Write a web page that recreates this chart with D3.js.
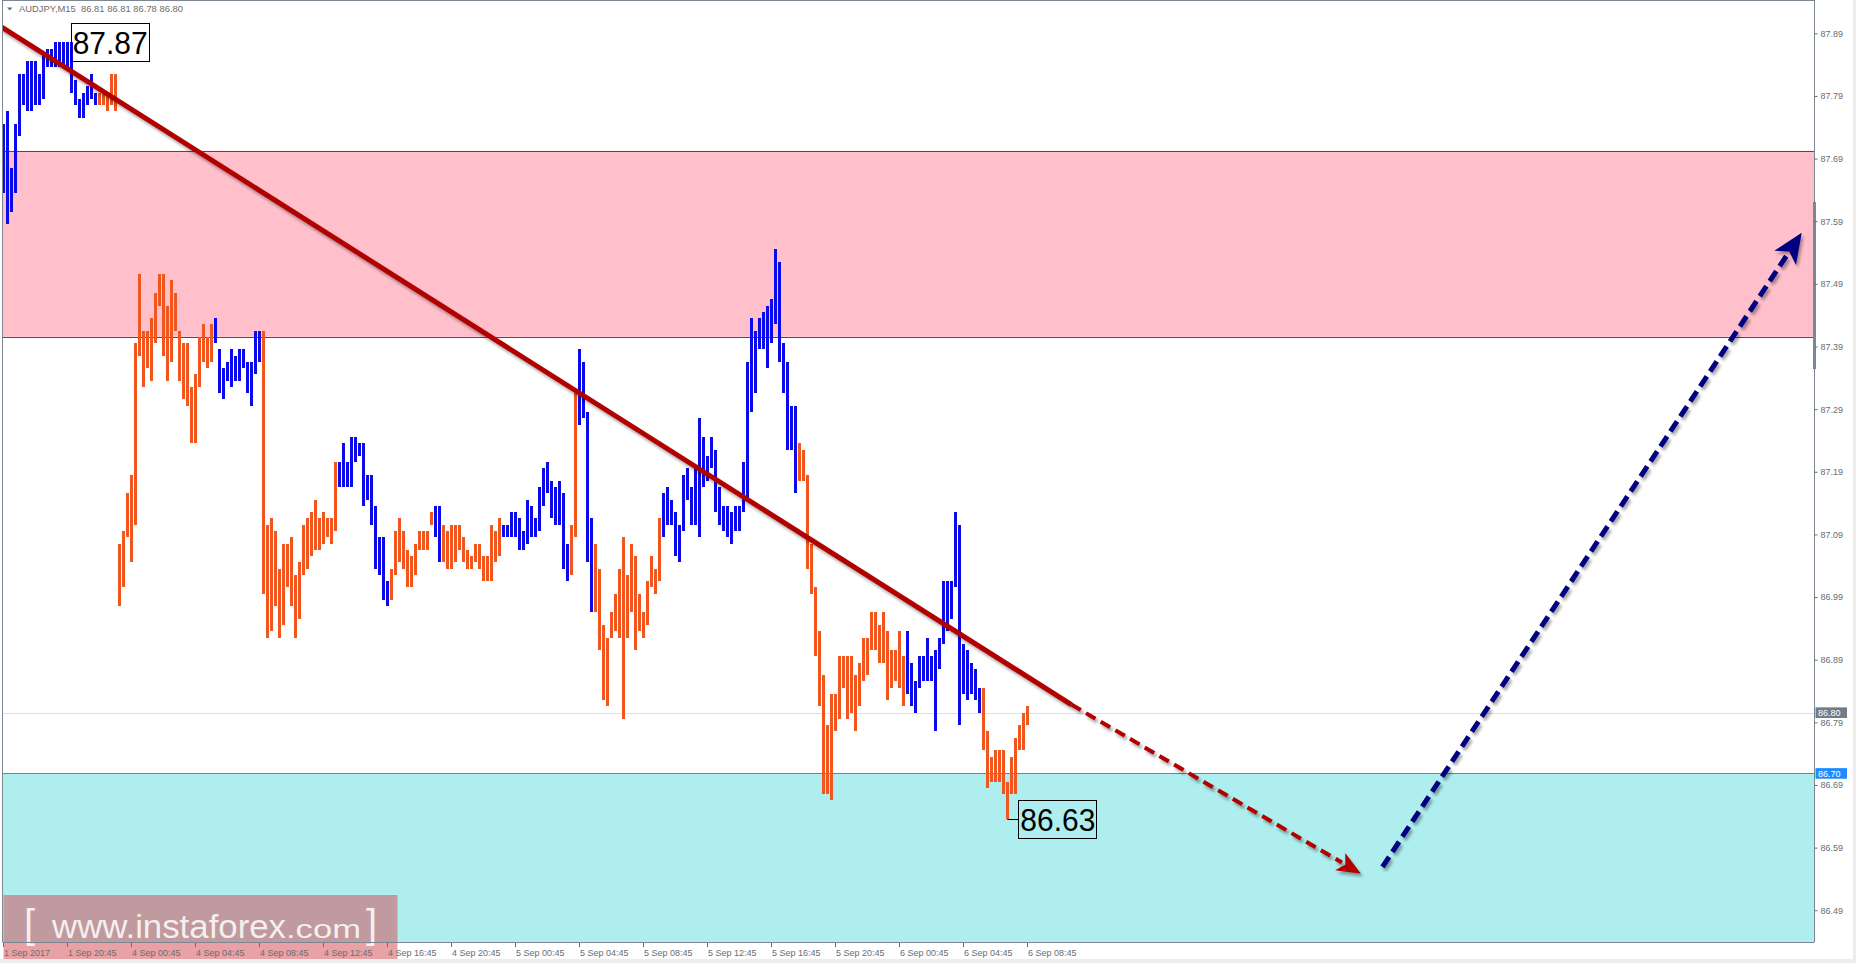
<!DOCTYPE html>
<html><head><meta charset="utf-8">
<script src="https://cdn.jsdelivr.net/npm/d3@7"></script>
<style>html,body{margin:0;padding:0;background:#fff;overflow:hidden}</style>
</head><body>
<svg id="chart" width="1856" height="963"></svg>
<script>
// ---------- data ----------
const barHigh = [
87.74,87.76,87.67,87.74,87.82,87.82,87.84,87.84,87.84,87.82,87.85,87.86,87.86,87.87,87.87,87.87,87.87,87.87,87.81,87.78,
87.79,87.80,87.82,87.79,87.79,87.79,87.79,87.82,87.82,87.07,87.09,87.15,87.18,87.39,87.50,87.41,87.41,87.43,87.47,87.50,
87.50,87.45,87.49,87.47,87.41,87.39,87.39,87.32,87.34,87.40,87.42,87.40,87.42,87.43,87.38,87.35,87.36,87.38,87.37,87.38,
87.38,87.36,87.36,87.41,87.41,87.41,87.10,87.11,87.09,87.03,87.07,87.07,87.08,87.02,87.04,87.10,87.11,87.12,87.14,87.11,
87.12,87.11,87.11,87.20,87.20,87.23,87.20,87.24,87.24,87.23,87.23,87.18,87.18,87.13,87.08,87.08,87.01,87.03,87.09,87.11,
87.09,87.06,87.05,87.07,87.09,87.09,87.09,87.12,87.13,87.13,87.10,87.09,87.10,87.10,87.10,87.08,87.06,87.05,87.07,87.07,
87.05,87.05,87.10,87.09,87.11,87.10,87.10,87.12,87.12,87.11,87.09,87.14,87.13,87.11,87.16,87.19,87.20,87.17,87.16,87.17,
87.15,87.07,87.10,87.31,87.38,87.36,87.28,87.11,87.07,87.03,86.94,86.92,86.96,86.99,87.03,87.08,87.02,87.07,87.05,86.99,
86.96,87.01,87.05,87.03,87.11,87.15,87.16,87.14,87.12,87.10,87.18,87.19,87.16,87.19,87.27,87.24,87.21,87.24,87.22,87.16,
87.13,87.13,87.12,87.13,87.13,87.20,87.36,87.43,87.41,87.43,87.44,87.45,87.46,87.54,87.52,87.39,87.36,87.29,87.29,87.23,
87.22,87.18,87.07,87.00,86.93,86.86,86.78,86.83,86.83,86.89,86.89,86.89,86.89,86.86,86.88,86.92,86.92,86.96,86.96,86.94,
86.96,86.93,86.90,86.90,86.93,86.89,86.93,86.88,86.85,86.89,86.89,86.92,86.89,86.90,86.92,87.01,87.01,87.01,87.12,87.10,
86.91,86.90,86.88,86.87,86.84,86.84,86.77,86.73,86.74,86.74,86.74,86.69,86.73,86.76,86.78,86.80,86.81];
const barLow = [
87.63,87.58,87.60,87.63,87.72,87.77,87.76,87.76,87.77,87.77,87.78,87.83,87.83,87.83,87.83,87.83,87.83,87.79,87.77,87.75,
87.75,87.77,87.78,87.77,87.77,87.77,87.76,87.77,87.76,86.97,87.00,87.08,87.04,87.10,87.37,87.32,87.35,87.33,87.39,87.45,
87.37,87.33,87.36,87.41,87.33,87.30,87.29,87.23,87.23,87.32,87.36,87.35,87.36,87.39,87.31,87.30,87.33,87.32,87.33,87.33,
87.35,87.31,87.29,87.34,87.36,86.99,86.92,86.93,86.97,86.92,86.94,87.00,86.97,86.92,86.95,87.02,87.03,87.05,87.06,87.06,
87.07,87.08,87.07,87.09,87.16,87.16,87.16,87.16,87.20,87.21,87.13,87.14,87.10,87.03,87.02,86.98,86.97,86.98,87.02,87.04,
87.03,87.00,87.00,87.02,87.06,87.06,87.06,87.10,87.08,87.04,87.04,87.03,87.03,87.04,87.06,87.04,87.03,87.03,87.04,87.03,
87.01,87.01,87.01,87.04,87.05,87.08,87.08,87.08,87.08,87.06,87.06,87.07,87.08,87.08,87.09,87.13,87.15,87.11,87.10,87.10,
87.03,87.01,87.02,87.08,87.26,87.27,87.04,86.96,86.96,86.90,86.82,86.81,86.92,86.93,86.92,86.79,86.92,86.96,86.90,86.93,
86.92,86.94,87.00,86.99,87.01,87.08,87.10,87.10,87.05,87.04,87.09,87.14,87.10,87.10,87.08,87.16,87.17,87.19,87.12,87.10,
87.09,87.08,87.07,87.09,87.09,87.12,87.14,87.28,87.31,87.38,87.38,87.35,87.39,87.42,87.36,87.31,87.22,87.22,87.15,87.17,
87.17,87.03,86.99,86.89,86.81,86.67,86.67,86.66,86.77,86.79,86.84,86.79,86.80,86.77,86.81,86.85,86.86,86.90,86.90,86.88,
86.88,86.82,86.84,86.85,86.84,86.81,86.83,86.81,86.80,86.84,86.85,86.85,86.85,86.77,86.87,86.91,86.93,86.95,87.00,86.78,
86.83,86.82,86.83,86.82,86.80,86.74,86.68,86.69,86.69,86.69,86.67,86.63,86.67,86.67,86.74,86.74,86.78];

const waveSegments = [
  {from:0,to:23,dir:"up"},   {from:24,to:52,dir:"down"},
  {from:53,to:64,dir:"up"},  {from:65,to:83,dir:"down"},
  {from:84,to:96,dir:"up"},  {from:97,to:107,dir:"down"},
  {from:108,to:109,dir:"up"},{from:110,to:124,dir:"down"},
  {from:125,to:141,dir:"up"},{from:142,to:143,dir:"down"},
  {from:144,to:147,dir:"up"},{from:148,to:164,dir:"down"},
  {from:165,to:198,dir:"up"},{from:199,to:225,dir:"down"},
  {from:226,to:244,dir:"up"},{from:245,to:256,dir:"down"}
];

const priceTicks = [87.89,87.79,87.69,87.59,87.49,87.39,87.29,87.19,87.09,86.99,86.89,86.79,86.69,86.59,86.49];
const timeTickBars = [0,16,32,48,64,80,96,112,128,144,160,176,192,208,224,240,256];
const timeLabels = ["1 Sep 2017","1 Sep 20:45","4 Sep 00:45","4 Sep 04:45","4 Sep 08:45","4 Sep 12:45",
  "4 Sep 16:45","4 Sep 20:45","5 Sep 00:45","5 Sep 04:45","5 Sep 08:45","5 Sep 12:45","5 Sep 16:45",
  "5 Sep 20:45","6 Sep 00:45","6 Sep 04:45","6 Sep 08:45"];

const title = "AUDJPY,M15  86.81 86.81 86.78 86.80";
const resistanceZone = [87.697, 87.40];
const supportZone = [86.703, 86.30];
const bidPrice = 86.80;
const zoneLabel = {price:86.703, text:"86.70"};
const bidLabel = {price:86.80, text:"86.80"};
const highMark = {bar:17, price:87.87, text:"87.87"};
const lowMark  = {bar:251, price:86.63, text:"86.63"};
const trendLine   = [{bar:-0.8, price:87.896},{bar:267, price:86.813}];
const forecastDown = [{bar:267, price:86.813},{bar:339.4, price:86.543}];
const forecastUp   = [{bar:344.8, price:86.554},{bar:449.6, price:87.566}];

// ---------- layout ----------
const W = 1856, H = 963;
const plotL = 2.5, plotR = 1814, plotT = 0.5, plotB = 942;
const x = d3.scaleLinear().domain([0,256]).range([3.3,1027.3]);
const y = d3.scaleLinear().domain([87.89,86.49]).range([29.9,29.9+1.4*626.4]);
const colUp = "#0a0aea", colDown = "#f0561e";
const axisFont = "'Liberation Sans', Arial, sans-serif";
const axisCol = "#6c6c6c";

const svg = d3.select("#chart");
const defs = svg.append("defs");
defs.append("clipPath").attr("id","plotClip").append("rect")
  .attr("x",plotL).attr("y",plotT).attr("width",plotR-plotL).attr("height",plotB-plotT);
const sh = defs.append("filter").attr("id","shadow").attr("x","-20%").attr("y","-20%").attr("width","140%").attr("height","140%");
sh.append("feDropShadow").attr("dx",2).attr("dy",3).attr("stdDeviation",1.8)
  .attr("flood-color","#000").attr("flood-opacity",0.35);

svg.append("rect").attr("width",W).attr("height",H).attr("fill","#fff");
// light frame strips
svg.append("rect").attr("x",0).attr("y",959).attr("width",W).attr("height",4).attr("fill","#ececec");
svg.append("rect").attr("x",1853).attr("y",0).attr("width",3).attr("height",H).attr("fill","#ececec");

const plot = svg.append("g").attr("clip-path","url(#plotClip)");

// zones
plot.append("rect").attr("x",plotL).attr("width",plotR-plotL)
  .attr("y",y(resistanceZone[0])).attr("height",y(resistanceZone[1])-y(resistanceZone[0]))
  .attr("fill","#ffc0cb");
[resistanceZone[0],resistanceZone[1]].forEach(p=>{
  plot.append("line").attr("x1",plotL).attr("x2",plotR).attr("y1",Math.round(y(p))+0.5).attr("y2",Math.round(y(p))+0.5)
    .attr("stroke","#e01010").attr("stroke-width",1);
});
plot.append("rect").attr("x",plotL).attr("width",plotR-plotL)
  .attr("y",y(supportZone[0])).attr("height",y(supportZone[1])-y(supportZone[0]))
  .attr("fill","#afeeee");
plot.append("line").attr("x1",plotL).attr("x2",plotR)
  .attr("y1",Math.round(y(supportZone[0]))+0.5).attr("y2",Math.round(y(supportZone[0]))+0.5)
  .attr("stroke","#3a8ed8").attr("stroke-width",1);

// bid line
plot.append("line").attr("x1",plotL).attr("x2",plotR)
  .attr("y1",Math.round(y(bidPrice))+0.5).attr("y2",Math.round(y(bidPrice))+0.5)
  .attr("stroke","#dcdfe8").attr("stroke-width",1);

// bars
const bars = barHigh.map((h,i)=>{
  const seg = waveSegments.find(s=>i>=s.from && i<=s.to);
  return {i, h, l:barLow[i], dir: seg ? seg.dir : "down"};
});
plot.append("g").attr("shape-rendering","crispEdges").selectAll("rect").data(bars).join("rect")
  .attr("x",d=>x(d.i)-1.5).attr("width",3)
  .attr("y",d=>y(d.h)).attr("height",d=>Math.max(1,y(d.l)-y(d.h)))
  .attr("fill",d=>d.dir==="up"?colUp:colDown);

// trend line + forecast arrows
const px = d=>[x(d.bar), y(d.price)];
function arrow(g, pts, color, width, dash, headLen, headW){
  const [x1,y1] = px(pts[0]), [x2,y2] = px(pts[1]);
  const dx = x2-x1, dy = y2-y1, len = Math.hypot(dx,dy), ux = dx/len, uy = dy/len;
  const bx = x2-ux*headLen, by = y2-uy*headLen;
  g.append("line").attr("x1",x1).attr("y1",y1).attr("x2",bx+ux*2).attr("y2",by+uy*2)
    .attr("stroke",color).attr("stroke-width",width).attr("stroke-dasharray",dash);
  g.append("path").attr("d",`M${x2},${y2}L${bx-uy*headW/2},${by+ux*headW/2}L${bx+ux*headLen*0.25},${by+uy*headLen*0.25}L${bx+uy*headW/2},${by-ux*headW/2}Z`)
    .attr("fill",color);
}
const ann = plot.append("g").attr("filter","url(#shadow)");
ann.append("line")
  .attr("x1",px(trendLine[0])[0]).attr("y1",px(trendLine[0])[1])
  .attr("x2",px(trendLine[1])[0]).attr("y2",px(trendLine[1])[1])
  .attr("stroke","#b00000").attr("stroke-width",5);
arrow(ann, forecastDown, "#b00000", 4, "11,6", 24, 20);
arrow(ann, forecastUp, "#000080", 5, "12,6", 30, 26);

// labels with boxes
function markLabel(m, dxBox, connector){
  const cx = x(m.bar), cy = y(m.price);
  const bx = cx + dxBox;
  if (connector) svg.append("line").attr("x1",cx).attr("x2",bx).attr("y1",Math.round(cy)+0.5).attr("y2",Math.round(cy)+0.5)
    .attr("stroke","#000").attr("stroke-width",1);
  svg.append("rect").attr("x",Math.round(bx)+0.5).attr("y",Math.round(cy-19)+0.5).attr("width",78).attr("height",38)
    .attr("fill","none").attr("stroke","#000").attr("stroke-width",1);
  svg.append("text").attr("x",bx+2).attr("y",cy+12).attr("font-family",axisFont).attr("font-size",32)
    .attr("textLength",75).attr("lengthAdjust","spacingAndGlyphs").attr("fill","#000").text(m.text);
}
markLabel(highMark, -0.6, false);
markLabel(lowMark, 11, true);

// watermark
const wm = svg.append("g");
wm.append("rect").attr("x",3.5).attr("y",895).attr("width",394).attr("height",64)
  .attr("fill","rgb(209,70,78)").attr("fill-opacity",0.5);
const wmText = (tx, ty, size, txt, len) => {
  const t = wm.append("text").attr("x",tx).attr("y",ty).attr("font-family",axisFont).attr("font-size",size)
    .attr("fill","#fff").attr("fill-opacity",0.85).text(txt);
  if (len) t.attr("textLength",len).attr("lengthAdjust","spacingAndGlyphs");
};
wmText(24, 938, 40, "[");
wmText(52, 938, 34, "www.instaforex", 234);
wmText(286, 938, 25, ".com", 75);
wmText(366, 938, 40, "]");

// frame
const frameCol = "#7c8792";
svg.append("line").attr("x1",plotL).attr("x2",plotL).attr("y1",0).attr("y2",plotB).attr("stroke",frameCol);
svg.append("line").attr("x1",plotL).attr("x2",plotR).attr("y1",plotT).attr("y2",plotT).attr("stroke",frameCol);
svg.append("line").attr("x1",plotR+0.5).attr("x2",plotR+0.5).attr("y1",0).attr("y2",plotB).attr("stroke",frameCol);
svg.append("line").attr("x1",plotL).attr("x2",plotR+0.5).attr("y1",plotB+0.5).attr("y2",plotB+0.5).attr("stroke",frameCol);
// scroll indicator
svg.append("rect").attr("x",1813).attr("y",202).attr("width",3).attr("height",167).attr("fill","#7b8794");

// right price axis
const yAxis = d3.axisRight(y).tickValues(priceTicks).tickFormat(d3.format(".2f")).tickSize(3).tickPadding(3);
const ya = svg.append("g").attr("transform",`translate(${plotR+0.5},3.4)`).call(yAxis);
ya.select(".domain").remove();
ya.selectAll("line").attr("stroke",axisCol);
ya.selectAll("text").attr("font-family",axisFont).attr("font-size",9).attr("fill",axisCol);

// bid & zone price boxes
function priceBox(lbl, bg){
  const cy = y(lbl.price);
  svg.append("rect").attr("x",1815.5).attr("y",cy-5.3).attr("width",31.5).attr("height",10.6).attr("fill",bg);
  svg.append("text").attr("x",1818).attr("y",cy).attr("dy","0.36em").attr("font-family",axisFont)
    .attr("font-size",9).attr("fill","#fff").text(lbl.text);
}
priceBox(bidLabel, "#6e7c8b");
priceBox(zoneLabel, "#1e8cff");

// time axis
const tg = svg.append("g");
timeTickBars.forEach((b,k)=>{
  const tx = Math.round(x(b)-0.5)+0.5;
  tg.append("line").attr("x1",tx).attr("x2",tx).attr("y1",plotB+1).attr("y2",plotB+5).attr("stroke",axisCol);
  tg.append("text").attr("x",tx+0.5).attr("y",955.5).attr("font-family",axisFont).attr("font-size",9)
    .attr("fill",axisCol).text(timeLabels[k]);
});

// title
svg.append("path").attr("d","M7,7.5L12.5,7.5L9.75,10.5Z").attr("fill","#6c6c6c");
svg.append("text").attr("x",19).attr("y",11.8).attr("font-family",axisFont).attr("font-size",9.5)
  .attr("textLength",164).attr("lengthAdjust","spacingAndGlyphs")
  .attr("fill","#6c6c6c").attr("xml:space","preserve").style("white-space","pre").text(title);
</script>
</body></html>
